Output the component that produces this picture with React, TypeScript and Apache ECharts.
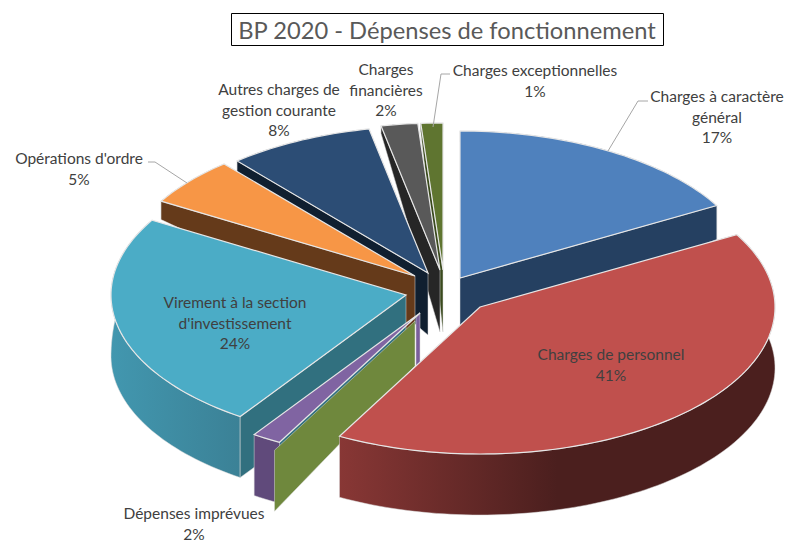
import React, { useEffect, useRef } from "react";
import * as echarts from "echarts";

const TITLE = "BP 2020 - Dépenses de fonctionnement";
const categories = [
  "Charges à caractère\ngénéral",
  "Charges de personnel",
  "Dépenses imprévues",
  "Virement à la section\nd'investissement",
  "Opérations d'ordre",
  "Autres charges de\ngestion courante",
  "Charges\nfinancières",
  "Charges exceptionnelles",
];
const values = [16.8, 41.1, 1.6, 24.0, 5.3, 8.0, 2.0, 1.2];

const topColors = ["#4f81bd", "#c0504d", "#8064a2", "#4bacc6", "#f79646", "#2c4d75", "#595959", "#5f7530"];
const wallColors = ["#254061", "#632523", "#6f883d", "#31707f", "#653a1a", "#101f30", "#262626", "#3a4a1d"];
const rimStops: [number, string][][] = [
  [[0, "#254061"], [1, "#254061"]],
  [[0, "#883735"], [0.5, "#4b1f1e"], [1, "#4b1f1e"]],
  [[0, "#604a7b"], [1, "#604a7b"]],
  [[0, "#4297af"], [1, "#3b8196"]],
  [[0, "#653a1a"], [1, "#653a1a"]],
  [[0, "#101f30"], [1, "#101f30"]],
  [[0, "#262626"], [1, "#262626"]],
  [[0, "#3a4a1d"], [1, "#3a4a1d"]],
];
// Per-slice explosion offset from the pie centre
const explode: [number, number][] = [
  [15, -11], [35, 18], [-25, 24], [-39, 6], [-30, -13], [-17, -16], [-5, -19], [-2, -19],
];
const drawOrder = [7, 6, 5, 4, 0, 3, 2, 1];

const CX = 445, CY = 289, RX = 295, RY = 147, APEX_DEPTH = 62;
const depthAt = (x: number, y: number) =>
  Math.max(6, Math.min(61, -29.8 + 0.0261 * x + 0.2189 * y + Math.max(0, y - 215) * 0.3));

const total = values.reduce((a, b) => a + b, 0);

function renderSlice(params: any, api: any) {
  const i = params.dataIndex;
  let before = 0;
  for (let k = 0; k < i; k++) before += values[k];
  const a0 = (before / total) * Math.PI * 2;
  const a1 = ((before + api.value(0)) / total) * Math.PI * 2;
  const ax = CX + explode[i][0];
  const ay = CY + explode[i][1];
  const at = (t: number): [number, number] => [ax + RX * Math.sin(t), ay - RY * Math.cos(t)];
  const n = Math.max(4, Math.ceil((a1 - a0) * 40));
  const arc: [number, number][] = [];
  for (let s = 0; s <= n; s++) arc.push(at(a0 + ((a1 - a0) * s) / n));
  const down = (p: [number, number]): [number, number] => [p[0], p[1] + depthAt(p[0], p[1])];
  const order = drawOrder.indexOf(i);
  const first = arc[0], last = arc[n];
  const isPurple = i === 2;
  const apexDepth = isPurple ? 45 : APEX_DEPTH;
  const wall = (p: [number, number], z: number, sx = 0, sy = 0) => ({
    type: "polygon",
    z2: z,
    shape: {
      points: [
        [ax + sx, ay + sy],
        [p[0] + sx, p[1] + sy],
        [down(p)[0] + sx, down(p)[1] + sy],
        [ax + sx, ay + sy + apexDepth],
      ],
    },
    style: { fill: wallColors[i], stroke: "#d8d8d8", lineWidth: 0.5 },
  });
  const children: any[] = [
    {
      type: "polygon",
      z2: order * 10 + 1,
      shape: { points: arc.concat(arc.map(down).reverse()) },
      style: {
        fill: new echarts.graphic.LinearGradient(
          0, 0, 1, 0,
          rimStops[i].map(([offset, color]) => ({ offset, color }))
        ),
        stroke: "#d8d8d8",
        lineWidth: 0.5,
      },
    },
  ];
  // Only the radial walls that face the viewer are drawn
  if (Math.sin(a0) < -1e-6) {
    children.push(isPurple ? wall(first, order * 10 + 3, -5, 8) : wall(first, order * 10 + 3));
  }
  if (Math.sin(a1) > 1e-6) children.push(wall(last, order * 10 + 3));
  if (isPurple) {
    children.push({
      type: "polygon",
      z2: order * 10 + 4,
      shape: { points: [[ax, ay], [ax - 4, ay + 5], [ax - 4, ay + 55], [ax, ay + 52]] },
      style: { fill: "#7a5f9c", stroke: "#d8d8d8", lineWidth: 0.5 },
    });
  }
  children.push({
    type: "polygon",
    z2: order * 10 + 5,
    shape: { points: [[ax, ay] as [number, number]].concat(arc) },
    style: { fill: topColors[i], stroke: "#e6e6e6", lineWidth: 1.2, lineJoin: "miter" },
  });
  return { type: "group", children };
}

const pct = (i: number) => `${Math.round(values[i])}%`;
const labelFont = "15.5px Lato, Carlito, sans-serif";
const label = (i: number, x: number, y: number) => ({
  type: "text",
  z: 50,
  x,
  y,
  style: {
    text: `${categories[i]}\n${pct(i)}`,
    font: labelFont,
    fill: "#404040",
    align: "center",
    verticalAlign: "top",
    lineHeight: 20.5,
  },
});
const leader = (points: number[][]) => ({
  type: "polyline",
  z: 40,
  shape: { points },
  style: { stroke: "#a6a6a6", lineWidth: 1, fill: "none" },
});

export default function App() {
  const ref = useRef<HTMLDivElement>(null);
  useEffect(() => {
    const chart = echarts.init(ref.current!, undefined, { renderer: "svg" });
    chart.setOption({
      animation: false,
      backgroundColor: "#ffffff",
      series: [
        {
          type: "custom",
          coordinateSystem: "none",
          renderItem: renderSlice,
          data: values.map((v) => [v]),
          silent: true,
        },
      ],
      graphic: [
        {
          type: "rect",
          z: 60,
          shape: { x: 231.5, y: 13.5, width: 432, height: 32 },
          style: { fill: "#ffffff", stroke: "#000000", lineWidth: 1 },
        },
        {
          type: "text",
          z: 61,
          x: 447,
          y: 29.5,
          style: {
            text: TITLE,
            font: "23.7px Lato, Carlito, sans-serif",
            fill: "#595959",
            align: "center",
            verticalAlign: "middle",
          },
        },
        label(0, 717, 86),
        label(1, 611, 344),
        label(2, 194, 503),
        label(3, 235, 292),
        label(4, 79, 148),
        label(5, 279, 79),
        label(6, 386, 59),
        label(7, 535, 60),
        leader([[148, 162], [155, 162], [187, 183]]),
        leader([[450, 74], [441, 74], [433, 127]]),
        leader([[648, 101], [638, 101], [608, 151]]),
      ],
    });
    return () => chart.dispose();
  }, []);
  return <div ref={ref} style={{ position: "absolute", left: 0, top: 0, width: 787, height: 541 }} />;
}
